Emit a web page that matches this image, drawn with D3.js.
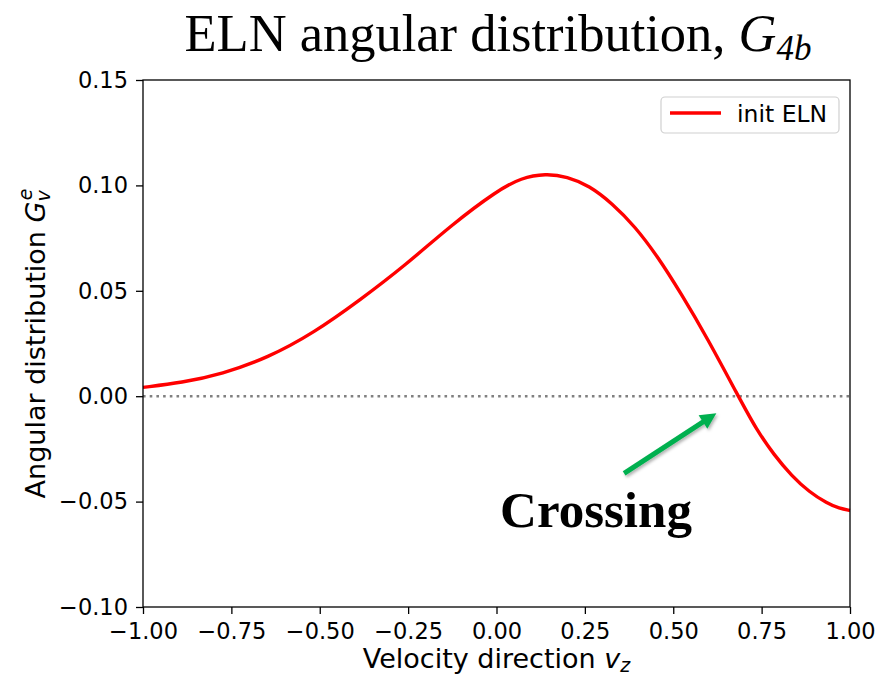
<!DOCTYPE html>
<html>
<head>
<meta charset="utf-8">
<script src="https://cdn.jsdelivr.net/npm/d3@7"></script>
<style>
  html, body { margin: 0; padding: 0; background: #fff; }
  svg { display: block; }
</style>
</head>
<body>
<svg id="chart" width="889" height="678"></svg>
<script>
// Initial ELN angular distribution G_v^e versus velocity direction v_z
const vz   = [-1.0, -0.89, -0.777, -0.647, -0.517, -0.387, -0.257, -0.128, 0.002, 0.07, 0.139, 0.2, 0.262, 0.327, 0.392, 0.457, 0.522, 0.595, 0.684, 0.735, 0.785, 0.835, 0.885, 0.935, 0.97, 1.0];
const gELN = [0.0042, 0.0064, 0.0105, 0.0182, 0.0300, 0.0455, 0.0622, 0.0812, 0.0975, 0.1036, 0.1056, 0.1042, 0.0999, 0.0915, 0.0805, 0.0660, 0.0487, 0.0280, 0.0, -0.0158, -0.0278, -0.0378, -0.0455, -0.0508, -0.0533, -0.0542];

const xTicks = [-1.0, -0.75, -0.5, -0.25, 0.0, 0.25, 0.5, 0.75, 1.0];
const yTicks = [-0.10, -0.05, 0.0, 0.05, 0.10, 0.15];

const seriesName = "init ELN";
const annotation = "Crossing";
// arrow from (v_z, G) tail to head
const arrowTail = [0.361, -0.0366];
const arrowHead = [0.622, -0.0081];

const svg = d3.select("#chart");
const m = { left: 143, right: 850, top: 80, bottom: 607 };

const x = d3.scaleLinear().domain([-1, 1]).range([m.left, m.right]);
const y = d3.scaleLinear().domain([-0.10, 0.15]).range([m.bottom, m.top]);

const sansFont = "'DejaVu Sans', sans-serif";
const serifFont = "'Liberation Serif', 'Times New Roman', serif";

// Zero reference line (dotted)
svg.append("line")
  .attr("x1", x(-1)).attr("x2", x(1))
  .attr("y1", y(0)).attr("y2", y(0))
  .attr("stroke", "#808080").attr("stroke-width", 2.6)
  .attr("stroke-dasharray", "2.6,4.1");

// Curve (smooth B-spline through the sampled points)
const line = d3.line()
  .x((d, i) => x(vz[i]))
  .y(d => y(d))
  .curve(d3.curveBasis);

svg.append("path")
  .datum(gELN)
  .attr("d", line)
  .attr("fill", "none")
  .attr("stroke", "#ff0000")
  .attr("stroke-width", 3.4);

// Axes
const fmt2 = v => d3.format(".2f")(v).replace("-", "\u2212");
const xAxis = d3.axisBottom(x).tickValues(xTicks).tickFormat(fmt2).tickSize(7).tickPadding(9);
const yAxis = d3.axisLeft(y).tickValues(yTicks).tickFormat(fmt2).tickSize(7).tickPadding(8);

const gx = svg.append("g").attr("transform", `translate(0,${m.bottom})`).call(xAxis);
const gy = svg.append("g").attr("transform", `translate(${m.left},0)`).call(yAxis);
[gx, gy].forEach(g => {
  g.select(".domain").remove();
  g.selectAll(".tick line").attr("stroke", "#000").attr("stroke-width", 1.3);
  g.selectAll(".tick text").attr("fill", "#000").attr("font-family", sansFont).attr("font-size", 22.5);
});

// Frame
svg.append("rect")
  .attr("x", m.left).attr("y", m.top)
  .attr("width", m.right - m.left).attr("height", m.bottom - m.top)
  .attr("fill", "none").attr("stroke", "#000").attr("stroke-width", 1.3);

// X label
const xl = svg.append("text")
  .attr("x", (m.left + m.right) / 2).attr("y", 668)
  .attr("text-anchor", "middle")
  .attr("font-family", sansFont).attr("font-size", 27);
xl.append("tspan").text("Velocity direction ");
xl.append("tspan").attr("font-style", "italic").text("v");
xl.append("tspan").attr("font-style", "italic").attr("font-size", 19).attr("dy", 4).text("z");

// Y label
const yl = svg.append("text")
  .attr("transform", `translate(45,${(m.top + m.bottom) / 2}) rotate(-90)`)
  .attr("text-anchor", "middle")
  .attr("font-family", sansFont).attr("font-size", 27);
yl.append("tspan").text("Angular distribution ");
yl.append("tspan").attr("font-style", "italic").text("G");
yl.append("tspan").attr("font-style", "italic").attr("font-size", 19).attr("dy", 5).text("v");
yl.append("tspan").attr("font-style", "italic").attr("font-size", 19).attr("dx", -10).attr("dy", -18).text("e");

// Title
const tt = svg.append("text")
  .attr("x", 498).attr("y", 51)
  .attr("text-anchor", "middle")
  .attr("font-family", serifFont).attr("font-size", 52.5);
tt.append("tspan").text("ELN angular distribution, ");
tt.append("tspan").attr("font-style", "italic").text("G");
tt.append("tspan").attr("font-style", "italic").attr("font-size", 35).attr("dy", 9).text("4b");

// Legend
const lg = svg.append("g");
lg.append("rect")
  .attr("x", 661).attr("y", 97).attr("width", 178).attr("height", 36)
  .attr("rx", 4).attr("ry", 4)
  .attr("fill", "#fff").attr("stroke", "#d0d0d0").attr("stroke-width", 1.2);
lg.append("line")
  .attr("x1", 670).attr("x2", 721).attr("y1", 113).attr("y2", 113)
  .attr("stroke", "#ff0000").attr("stroke-width", 3.4);
lg.append("text")
  .attr("x", 737).attr("y", 122)
  .attr("font-family", sansFont).attr("font-size", 23.5)
  .text(seriesName);

// Arrow annotation
const defs = svg.append("defs");
const flt = defs.append("filter").attr("id", "shadow").attr("x", "-20%").attr("y", "-20%").attr("width", "140%").attr("height", "140%");
flt.append("feDropShadow").attr("dx", 1.5).attr("dy", 2).attr("stdDeviation", 1.5).attr("flood-color", "#000").attr("flood-opacity", 0.3);

const tx = x(arrowTail[0]), ty = y(arrowTail[1]);
const hx = x(arrowHead[0]), hy = y(arrowHead[1]);
const ang = Math.atan2(hy - ty, hx - tx);
const headLen = 16, headW = 8;
const bx = hx - headLen * Math.cos(ang), by = hy - headLen * Math.sin(ang);
const px = -Math.sin(ang), py = Math.cos(ang);
const ag = svg.append("g").attr("filter", "url(#shadow)");
ag.append("line")
  .attr("x1", tx).attr("y1", ty).attr("x2", bx + 2 * Math.cos(ang)).attr("y2", by + 2 * Math.sin(ang))
  .attr("stroke", "#00b050").attr("stroke-width", 5);
ag.append("path")
  .attr("d", `M${hx},${hy} L${bx + px * headW},${by + py * headW} L${bx - px * headW},${by - py * headW} Z`)
  .attr("fill", "#00b050");

svg.append("text")
  .attr("x", 596).attr("y", 527)
  .attr("text-anchor", "middle")
  .attr("font-family", serifFont).attr("font-weight", "bold").attr("font-size", 51)
  .text(annotation);
</script>
</body>
</html>
